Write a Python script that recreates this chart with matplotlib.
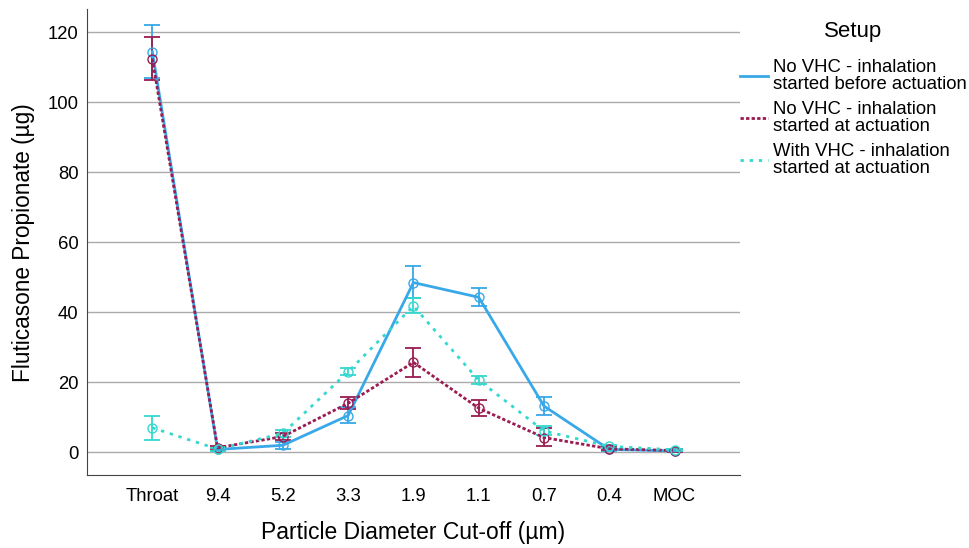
import numpy as np
import matplotlib; matplotlib.use('Agg')
import matplotlib.pyplot as plt

plt.rcParams['font.family'] = ['Liberation Sans', 'DejaVu Sans']

# ── Data ──────────────────────────────────────────────────────────────────────
stages = ['Throat', '9.4', '5.2', '3.3', '1.9', '1.1', '0.7', '0.4', 'MOC']

labels = ['No VHC - inhalation\nstarted before actuation',
          'No VHC - inhalation\nstarted at actuation',
          'With VHC - inhalation\nstarted at actuation']

before_mean = [114.5, 0.8, 2.0, 10.5, 48.5, 44.3, 13.2, 0.8, 0.4]
before_lo   = [107.0, 0.4, 1.0, 8.5, 44.2, 41.8, 10.6, 0.4, 0.1]
before_hi   = [122.0, 1.2, 3.0, 13.0, 53.3, 47.0, 15.9, 1.2, 0.8]

at_mean = [112.5, 1.3, 4.5, 14.0, 25.7, 12.6, 4.2, 1.0, 0.5]
at_lo   = [106.5, 0.8, 3.5, 12.4, 21.6, 10.3, 1.8, 0.6, 0.2]
at_hi   = [118.6, 1.8, 5.5, 15.9, 29.9, 14.9, 6.8, 1.4, 0.8]

vhc_mean = [7.0, 0.9, 5.4, 23.0, 41.8, 20.6, 6.1, 1.7, 0.7]
vhc_lo   = [3.6, 0.5, 4.4, 22.0, 39.7, 19.4, 4.9, 1.3, 0.4]
vhc_hi   = [10.5, 1.3, 6.4, 24.0, 44.2, 21.9, 7.5, 2.1, 1.0]

yticks = [0, 20, 40, 60, 80, 100, 120]

# ── Plot ──────────────────────────────────────────────────────────────────────
fig = plt.figure(figsize=(9.7, 5.48), dpi=100)
ax = fig.add_axes([0.0897, 0.1332, 0.673, 0.8498])

x = np.arange(len(stages))
series = [
    (before_mean, before_lo, before_hi, '#38a8e8', '-',              labels[0]),
    (at_mean,     at_lo,     at_hi,     '#9a1c52', (0, (1.2, 0.8)),  labels[1]),
    (vhc_mean,    vhc_lo,    vhc_hi,    '#35d8cf', (0, (1.2, 2.1)),  labels[2]),
]

for mean, lo, hi, col, ls, lbl in series:
    mean = np.array(mean); lo = np.array(lo); hi = np.array(hi)
    ax.errorbar(x, mean, yerr=[mean - lo, hi - mean], fmt='none',
                ecolor=col, elinewidth=1.3, capsize=6, capthick=1.3, zorder=3)
    ax.plot(x, mean, color=col, lw=2, ls=ls, label=lbl, zorder=4)
    ax.plot(x, mean, ls='none', marker='o', ms=6.5, mfc='none', mec=col,
            mew=1.0, zorder=5)

ax.set_xlim(-1, len(stages))
ax.set_ylim(-6.5, 126.6)
ax.set_xticks(x)
ax.set_xticklabels(stages)
ax.set_yticks(yticks)
ax.tick_params(axis='y', length=0, labelsize=13.3, pad=6)
ax.tick_params(axis='x', length=0, labelsize=13.3, pad=9)
ax.yaxis.grid(True, color='#aaaaaa', lw=1)
ax.set_axisbelow(True)
for s in ['top', 'right']:
    ax.spines[s].set_visible(False)
for s in ['left', 'bottom']:
    ax.spines[s].set_color('#444444')

ax.set_xlabel('Particle Diameter Cut-off (µm)', fontsize=16.5, labelpad=12)
ax.set_ylabel('Fluticasone Propionate (µg)', fontsize=16.3, labelpad=9)

leg = ax.legend(title='Setup', loc='upper left', bbox_to_anchor=(1.0, 0.975),
                frameon=False, fontsize=13.3, title_fontsize=16,
                handlelength=1.5, handletextpad=0.3, labelspacing=0.45,
                borderaxespad=0, borderpad=0)
leg._legend_box.align = 'center'
leg._legend_box.sep = 12
for t in leg.get_texts():
    t.set_linespacing(1.0)

fig.savefig('out.png', dpi=100)
